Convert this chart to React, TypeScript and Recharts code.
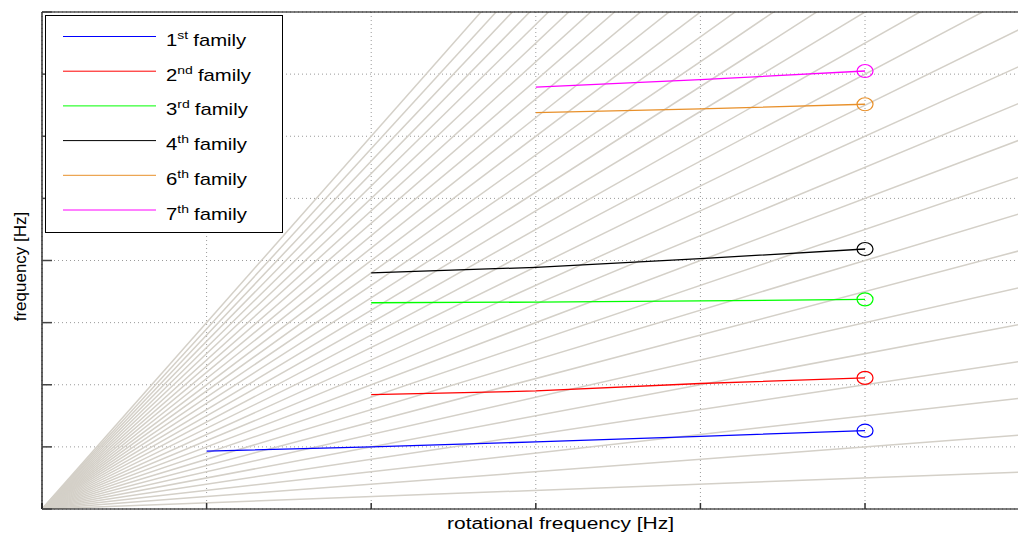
import { LineChart, Line, XAxis, YAxis, CartesianGrid, Legend, Label } from 'recharts';

const FONT = '"Liberation Sans", Arial, Helvetica, sans-serif';

const xTicks = [0, 1, 2, 3, 4, 5, 6];
const yTicks = [0, 1, 2, 3, 4, 5, 6, 7, 8];
const xMax = 6.3;
const yMax = 8;

// engine orders (gray rays through the origin)
const orders = [
  1, 2, 3, 4, 5, 6, 7, 8, 9, 10, 11, 12, 13, 14, 15,
  16, 17, 18, 19, 20, 21, 22, 23, 24, 25, 26, 27, 28, 29, 30,
];
const orderSlope = 0.1;

// blade families
const fam1X = [1, 2, 3, 4, 5];
const fam1Y = [0.93, 1.0, 1.08, 1.17, 1.26];
const fam2X = [2, 3, 4, 5];
const fam2Y = [1.84, 1.9, 2.02, 2.11];
const fam3X = [2, 3, 4, 5];
const fam3Y = [3.32, 3.33, 3.35, 3.375];
const fam4X = [2, 3, 4, 5];
const fam4Y = [3.8, 3.89, 4.03, 4.185];
const fam6X = [3, 4, 5];
const fam6Y = [6.38, 6.44, 6.515];
const fam7X = [3, 4, 5];
const fam7Y = [6.79, 6.91, 7.05];

const familyNum = ['1', '2', '3', '4', '6', '7'];
const familySup = ['st', 'nd', 'rd', 'th', 'th', 'th'];
const familyColors = ['#0000ff', '#ff0000', '#00ff00', '#000000', '#e8902a', '#ff00ff'];
const familyXs = [fam1X, fam2X, fam3X, fam4X, fam6X, fam7X];
const familyYs = [fam1Y, fam2Y, fam3Y, fam4Y, fam6Y, fam7Y];

const families = familyNum.map((num, i) => ({
  key: `fam${num}`,
  num,
  sup: familySup[i],
  color: familyColors[i],
  data: familyXs[i].map((x, j) => ({ x, y: familyYs[i][j] })),
}));

const orderLines = orders.map((k) => ({
  key: `order${k}`,
  data: [
    { x: 0, y: 0 },
    { x: xMax, y: orderSlope * k * xMax },
  ],
}));

const noTick = (props: any) => <g key={`t-${props.index}`} />;

function endCircle(color: string, last: number) {
  return (props: any) => {
    const { cx, cy, index } = props;
    if (index !== last) return <g key={`d-${index}`} />;
    return (
      <ellipse
        key={`d-${index}`}
        cx={cx}
        cy={cy}
        rx={8}
        ry={6.5}
        fill="none"
        stroke={color}
        strokeWidth={1.2}
      />
    );
  };
}

function FamilyLegend() {
  return (
    <div
      style={{
        width: 236,
        height: 216,
        background: '#fff',
        border: '1px solid #000',
      }}
    >
      <svg width={236} height={216}>
        {families.map((f, i) => {
          const by = 30 + i * 34.7;
          return (
            <g key={f.key}>
              <line x1={17} x2={110} y1={by - 9.5} y2={by - 9.5} stroke={f.color} strokeWidth={1} />
              <text
                transform={`translate(120, ${by}) scale(1.27, 1)`}
                fontSize={16}
                fontFamily={FONT}
                fill="#000"
              >
                {f.num}
                <tspan dy={-7} fontSize={11}>
                  {f.sup}
                </tspan>
                <tspan dy={7} dx={4} fontSize={16}>
                  family
                </tspan>
              </text>
            </g>
          );
        })}
      </svg>
    </div>
  );
}

export default function App() {
  return (
    <div
      style={{
        position: 'absolute',
        left: 0,
        top: 0,
        width: 1018,
        height: 533,
        overflow: 'hidden',
        background: '#fff',
      }}
    >
      <LineChart width={1090} height={533} margin={{ top: 12, right: 11, bottom: 24, left: 42 }}>
        <CartesianGrid stroke="#9a9a9a" strokeDasharray="1 3" />
        <XAxis
          dataKey="x"
          type="number"
          domain={[0, xMax]}
          ticks={xTicks}
          allowDataOverflow
          height={24}
          mirror
          tick={noTick}
          tickSize={6}
          tickLine={{ stroke: '#333', strokeWidth: 1.5 }}
          axisLine={{ stroke: '#000', strokeWidth: 1.2 }}
        >
          <Label
            content={(props: any) => {
              const vb = props.viewBox;
              return (
                <text
                  transform={`translate(${vb.x + vb.width / 2}, 529) scale(1.31, 1)`}
                  textAnchor="middle"
                  fontSize={16}
                  fontFamily={FONT}
                  fill="#000"
                >
                  rotational frequency [Hz]
                </text>
              );
            }}
          />
        </XAxis>
        <XAxis
          xAxisId="top"
          orientation="top"
          dataKey="x"
          type="number"
          domain={[0, xMax]}
          ticks={xTicks}
          height={12}
          mirror
          tick={noTick}
          tickSize={8}
          tickLine={{ stroke: '#333', strokeWidth: 1.5 }}
          axisLine={{ stroke: '#000', strokeWidth: 1.2 }}
        />
        <YAxis
          type="number"
          domain={[0, yMax]}
          ticks={yTicks}
          allowDataOverflow
          width={42}
          mirror
          tick={noTick}
          tickSize={10}
          tickLine={{ stroke: '#444', strokeWidth: 1.5 }}
          axisLine={{ stroke: '#000', strokeWidth: 1.2 }}
        >
          <Label
            content={(props: any) => {
              const vb = props.viewBox;
              return (
                <text
                  transform={`translate(26, ${vb.y + vb.height / 2 + 6}) rotate(-90)`}
                  textAnchor="middle"
                  fontSize={17}
                  fontFamily={FONT}
                  fill="#000"
                >
                  frequency [Hz]
                </text>
              );
            }}
          />
        </YAxis>
        <Legend
          layout="vertical"
          align="center"
          verticalAlign="middle"
          content={() => <FamilyLegend />}
          wrapperStyle={{ left: 45, top: 15, width: 238, height: 218 }}
        />
        {orderLines.map((o) => (
          <Line
            key={o.key}
            data={o.data}
            dataKey="y"
            stroke="#d4d0c8"
            strokeWidth={1.5}
            dot={false}
            activeDot={false}
            legendType="none"
            isAnimationActive={false}
          />
        ))}
        {families.map((f) => (
          <Line
            key={f.key}
            data={f.data}
            dataKey="y"
            name={`${f.num}${f.sup} family`}
            stroke={f.color}
            strokeWidth={1.3}
            dot={endCircle(f.color, f.data.length - 1)}
            activeDot={false}
            isAnimationActive={false}
          />
        ))}
      </LineChart>
    </div>
  );
}
